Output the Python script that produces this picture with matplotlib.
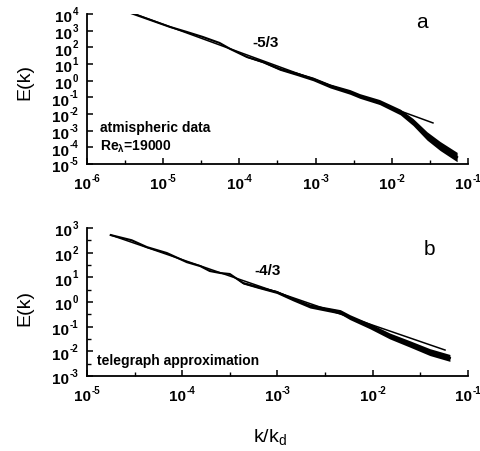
import matplotlib
matplotlib.use("Agg")
import numpy as np
import matplotlib.pyplot as plt
import matplotlib.transforms as mtrans
from matplotlib.ticker import FixedLocator, NullFormatter

plt.rcParams["font.family"] = "Liberation Sans"
plt.rcParams["mathtext.fontset"] = "custom"
plt.rcParams["mathtext.rm"] = "Liberation Sans"
plt.rcParams["mathtext.bf"] = "Liberation Sans:bold"
plt.rcParams["mathtext.it"] = "Liberation Sans:italic"

# panel a: atmospheric spectrum
k_a = [3.89e-6, 1.23e-5, 2.04e-5, 3.31e-5, 5.5e-5, 7.6e-5, 1.26e-4, 2.04e-4,
       3.39e-4, 5.75e-4, 9.3e-4, 1.55e-3, 2.82e-3, 3.8e-3, 6.9e-3, 1.29e-2,
       1.9e-2, 2.9e-2, 4.3e-2, 7.2e-2]
E_a = [1.07e4, 1.66e3, 832, 417, 182, 79, 26, 13.2, 5.0, 2.5, 1.26, 0.48,
       0.21, 0.12, 0.052, 0.0132, 3.3e-3, 4.8e-4, 1.2e-4, 2.6e-5]
spread_a = [0, 0, 0, 0, 0, 0, 0.03, 0.06, 0.08, 0.1, 0.11, 0.12, 0.14, 0.14,
            0.15, 0.17, 0.21, 0.25, 0.27, 0.28]  # half band width, decades
fit_k_a = [3.9e-6, 3.47e-2]
fit_E_a = [1.15e4, 2.9e-3]

# panel b: telegraph approximation
k_b = [1.78e-5, 2.95e-5, 4.27e-5, 6.9e-5, 1.12e-4, 1.55e-4, 1.95e-4, 2.51e-4,
       3.16e-4, 4.37e-4, 6.2e-4, 9.8e-4, 1.45e-3, 2.19e-3, 4.57e-3, 5.75e-3,
       9.3e-3, 1.51e-2, 2.45e-2, 3.98e-2, 6.46e-2]
E_b = [525, 324, 170, 98, 41.7, 28.8, 18.2, 15.1, 13.8, 5.9, 4.07, 2.57,
       1.32, 0.69, 0.40, 0.245, 0.107, 0.042, 0.020, 0.0093, 0.0054]
spread_b = [0, 0, 0, 0, 0, 0, 0, 0, 0, 0.04, 0.05, 0.06, 0.07, 0.08, 0.09,
            0.1, 0.11, 0.12, 0.13, 0.14, 0.14]
fit_k_b = [1.78e-5, 5.74e-2]
fit_E_b = [525, 0.0113]

BASE_FS = 11   # "10"
EXP_FS = 7     # exponent
PX = 100 / 72.0


def text_width(s, fs):
    # rough advance widths of bold Liberation Sans, in pixels
    w = 0.0
    for ch in s:
        w += 0.333 if ch == "-" else 0.556
    return w * fs * PX


def power_label(ax, fig, trans, exp, anchor):
    e = str(exp)
    w10 = text_width("10", BASE_FS)
    we = text_width(e, EXP_FS)
    if anchor == "x":
        x10 = -(w10 + we) / 2
        y10, ye = -24.5, -17.5
    else:
        x10 = -9 - we - 0.5 - w10
        y10, ye = -7.3, 0.0
    t1 = mtrans.offset_copy(trans, fig=fig, x=x10, y=y10, units="dots")
    t2 = mtrans.offset_copy(trans, fig=fig, x=x10 + w10 + 0.5, y=ye, units="dots")
    return t1, t2, e


def style_axis(ax, fig, xdec, ydec, yminor):
    ax.set_xscale("log")
    ax.set_yscale("log")
    ax.set_xlim(10.0 ** xdec[0], 10.0 ** xdec[-1])
    ax.set_ylim(10.0 ** ydec[0], 10.0 ** ydec[-1])
    for s in ("top", "right"):
        ax.spines[s].set_visible(False)
    for s in ("left", "bottom"):
        ax.spines[s].set_linewidth(1.3)

    ax.xaxis.set_major_locator(FixedLocator([10.0 ** d for d in xdec]))
    ax.xaxis.set_minor_locator(FixedLocator([10.0 ** (d + 0.5) for d in xdec[:-1]]))
    ax.yaxis.set_major_locator(FixedLocator([10.0 ** d for d in ydec]))
    if yminor:
        ax.yaxis.set_minor_locator(FixedLocator([10.0 ** (d + 0.5) for d in ydec[:-1]]))
    else:
        ax.yaxis.set_minor_locator(FixedLocator([]))
    for axis in (ax.xaxis, ax.yaxis):
        axis.set_major_formatter(NullFormatter())
        axis.set_minor_formatter(NullFormatter())

    ax.tick_params(which="major", direction="in", length=4, width=1.1)
    ax.tick_params(which="minor", direction="in", length=3, width=1.0)

    xtr = mtrans.blended_transform_factory(ax.transData, ax.transAxes)
    for d in xdec:
        t1, t2, e = power_label(ax, fig, xtr, d, "x")
        ax.text(10.0 ** d, 0, "10", transform=t1, fontsize=BASE_FS, fontweight="bold",
                ha="left", va="baseline", clip_on=False)
        ax.text(10.0 ** d, 0, e, transform=t2, fontsize=EXP_FS, fontweight="bold",
                ha="left", va="baseline", clip_on=False)
    ytr = mtrans.blended_transform_factory(ax.transAxes, ax.transData)
    for d in ydec:
        t1, t2, e = power_label(ax, fig, ytr, d, "y")
        ax.text(0, 10.0 ** d, "10", transform=t1, fontsize=BASE_FS, fontweight="bold",
                ha="left", va="baseline", clip_on=False)
        ax.text(0, 10.0 ** d, e, transform=t2, fontsize=EXP_FS, fontweight="bold",
                ha="left", va="baseline", clip_on=False)


def draw_spectrum(ax, k, E, spread, fk, fE):
    k = np.array(k)
    E = np.array(E)
    hw = 10.0 ** np.array(spread)
    ax.fill_between(k, E / hw, E * hw, color="black", lw=0)
    ax.plot(k, E, color="black", lw=1.5)
    ax.plot(fk, fE, color="black", lw=1.1)


fig = plt.figure(figsize=(4.8, 4.52), dpi=100)

ax_a = fig.add_axes([0.181, 0.635, 0.794, 0.332])
draw_spectrum(ax_a, k_a, E_a, spread_a, fit_k_a, fit_E_a)
style_axis(ax_a, fig, list(range(-6, 0)), list(range(-5, 5)), False)
ax_a.text(0.035, 0.245, "atmispheric data", transform=ax_a.transAxes,
          fontsize=10, fontweight="bold", va="center")
ax_a.text(0.035, 0.12, r"$\mathbf{Re_{\lambda}}$=19000", transform=ax_a.transAxes,
          fontsize=10, fontweight="bold", va="center")
ax_a.text(0.468, 0.815, "-5/3", transform=ax_a.transAxes,
          fontsize=11, fontweight="bold", ha="center", va="center")
ax_a.text(0.88, 0.95, "a", transform=ax_a.transAxes, fontsize=15,
          ha="center", va="center")

ax_b = fig.add_axes([0.181, 0.166, 0.794, 0.327])
draw_spectrum(ax_b, k_b, E_b, spread_b, fit_k_b, fit_E_b)
style_axis(ax_b, fig, list(range(-5, 0)), list(range(-3, 4)), True)
ax_b.text(0.027, 0.11, "telegraph approximation", transform=ax_b.transAxes,
          fontsize=10, fontweight="bold", va="center")
ax_b.text(0.475, 0.72, "-4/3", transform=ax_b.transAxes,
          fontsize=11, fontweight="bold", ha="center", va="center")
ax_b.text(0.9, 0.865, "b", transform=ax_b.transAxes, fontsize=15,
          ha="center", va="center")

# axis titles
fig.text(25 / 480, 1 - 82 / 452, "E(k)", rotation=90, fontsize=14,
         ha="center", va="center")
fig.text(25 / 480, 1 - 308 / 452, "E(k)", rotation=90, fontsize=14,
         ha="center", va="center")
fig.text(270 / 480, 1 - 437 / 452, r"k/k$_{\mathrm{d}}$", fontsize=14,
         ha="center", va="center")

fig.savefig("out.png", dpi=100)
